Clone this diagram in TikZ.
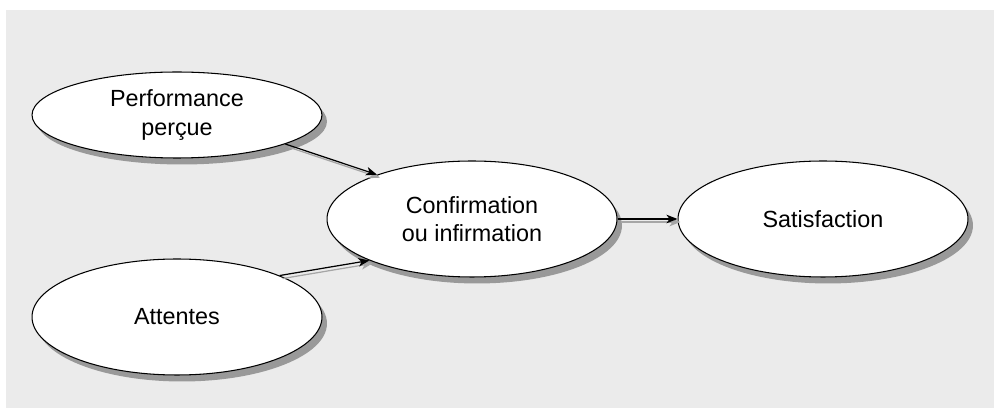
\documentclass[tikz,border=0pt]{standalone}
\usepackage{fontspec}
\setmainfont{Liberation Sans}
\usetikzlibrary{shapes.geometric,shadows,arrows.meta}

\begin{document}
\begin{tikzpicture}[x=0.02cm,y=-0.02cm,
    bulle/.style={ellipse,draw,line width=0.6pt,fill=white,
      minimum width=5.8cm,minimum height=2.32cm,inner sep=0pt,align=center,
      font=\fontsize{13.3}{16}\selectfont,
      drop shadow={shadow xshift=0.1cm,shadow yshift=-0.13cm,fill=black!40,opacity=1}},
    fleche/.style={line width=0.7pt,-{Stealth[length=0.22cm,width=0.17cm,inset=0.06cm]}},
    ombre/.style={fleche,draw=black!35,fill=black!35,
      transform canvas={shift={(0.06cm,-0.06cm)}}}]
      \useasboundingbox (0,0) rectangle (995,408);
      \fill[black!8] (6,10) rectangle (994,408);
      \node[bulle,minimum height=1.72cm] (perf) at (177,115) {Performance\\perçue};
      \node[bulle] (att) at (177,317) {Attentes};
      \node[bulle] (conf) at (472,219) {Confirmation\\ou infirmation};
      \node[bulle] (sat) at (823,219) {Satisfaction};
      \foreach \a/\b in {perf.-15/conf.155, att.22/conf.202, conf.east/sat.west} {
        \draw[ombre] (\a) -- (\b);
        \draw[fleche] (\a) -- (\b);
      }
    \end{tikzpicture}
\end{document}
